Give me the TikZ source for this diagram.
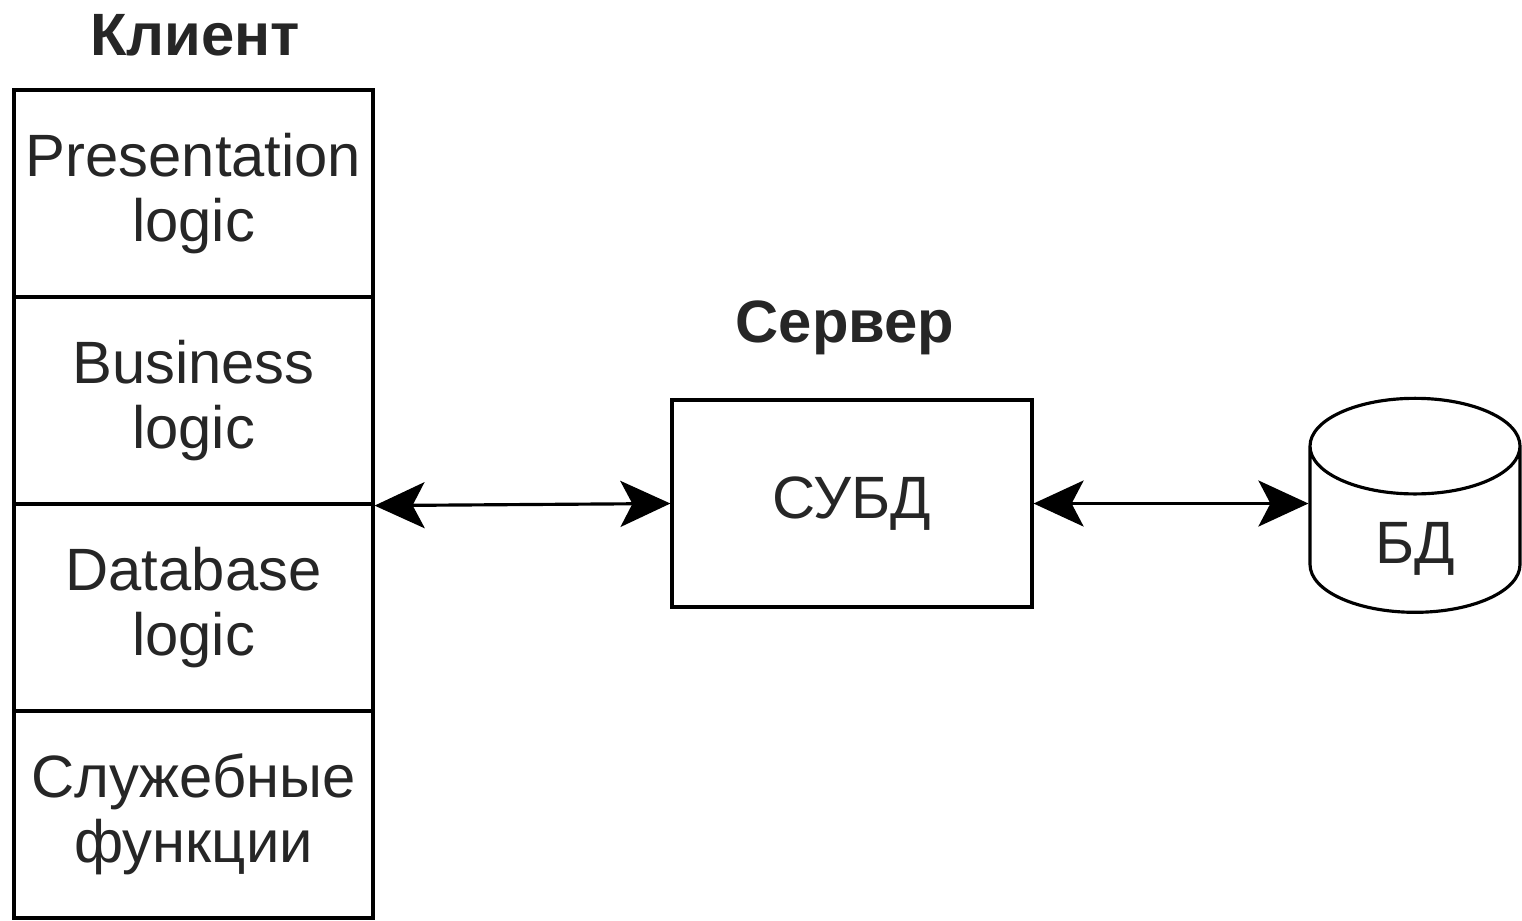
\documentclass[tikz,border=0pt]{standalone}
\usepackage{fontspec}
\setmainfont{Liberation Sans}
\usetikzlibrary{positioning,arrows.meta,shapes.geometric}

\begin{document}
\begin{tikzpicture}[
    >={Stealth[length=5mm, width=4.6mm, inset=1.2mm]},
    font=\fontsize{17}{18.5}\selectfont,
    cell/.style={draw, line width=0.9pt, minimum width=3.59cm, minimum height=2.07cm, align=center, inner sep=0pt, text=black!85},
    titre/.style={font=\fontsize{17}{20}\selectfont\bfseries, text=black!85},
    link/.style={<->, line width=0.9pt},
  ]
  \useasboundingbox (0,0) rectangle (15.22,-9.20);
  % client
  \node[cell] (pres) at (1.935,-1.935) {Presentation\\logic};
  \node[cell, below=-0.9pt of pres] (biz) {Business\\logic};
  \node[cell, below=-0.9pt of biz] (dbl) {Database\\logic};
  \node[cell, below=-0.9pt of dbl] (serv) {Служебные\\функции};
  \node[titre] (client) at (1.95,-0.35) {Клиент};
  % serveur
  \node[cell, minimum width=3.6cm] (subd) at (8.52,-5.035) {СУБД};
  \node[titre] (server) at (8.45,-3.28) {Сервер};
  \node[draw, line width=0.9pt, cylinder, shape border rotate=90, aspect=1.2, inner sep=0pt,
    text height=19pt, text depth=-3.3pt,
    minimum width=2.1cm, minimum height=2.14cm, text=black!85] (bd) at (14.15,-5.30) {БД};
  \draw[link] (biz.south east) -- (subd.west);
  \draw[link] (subd.east) -- (subd.east -| bd.west);
\end{tikzpicture}
\end{document}
